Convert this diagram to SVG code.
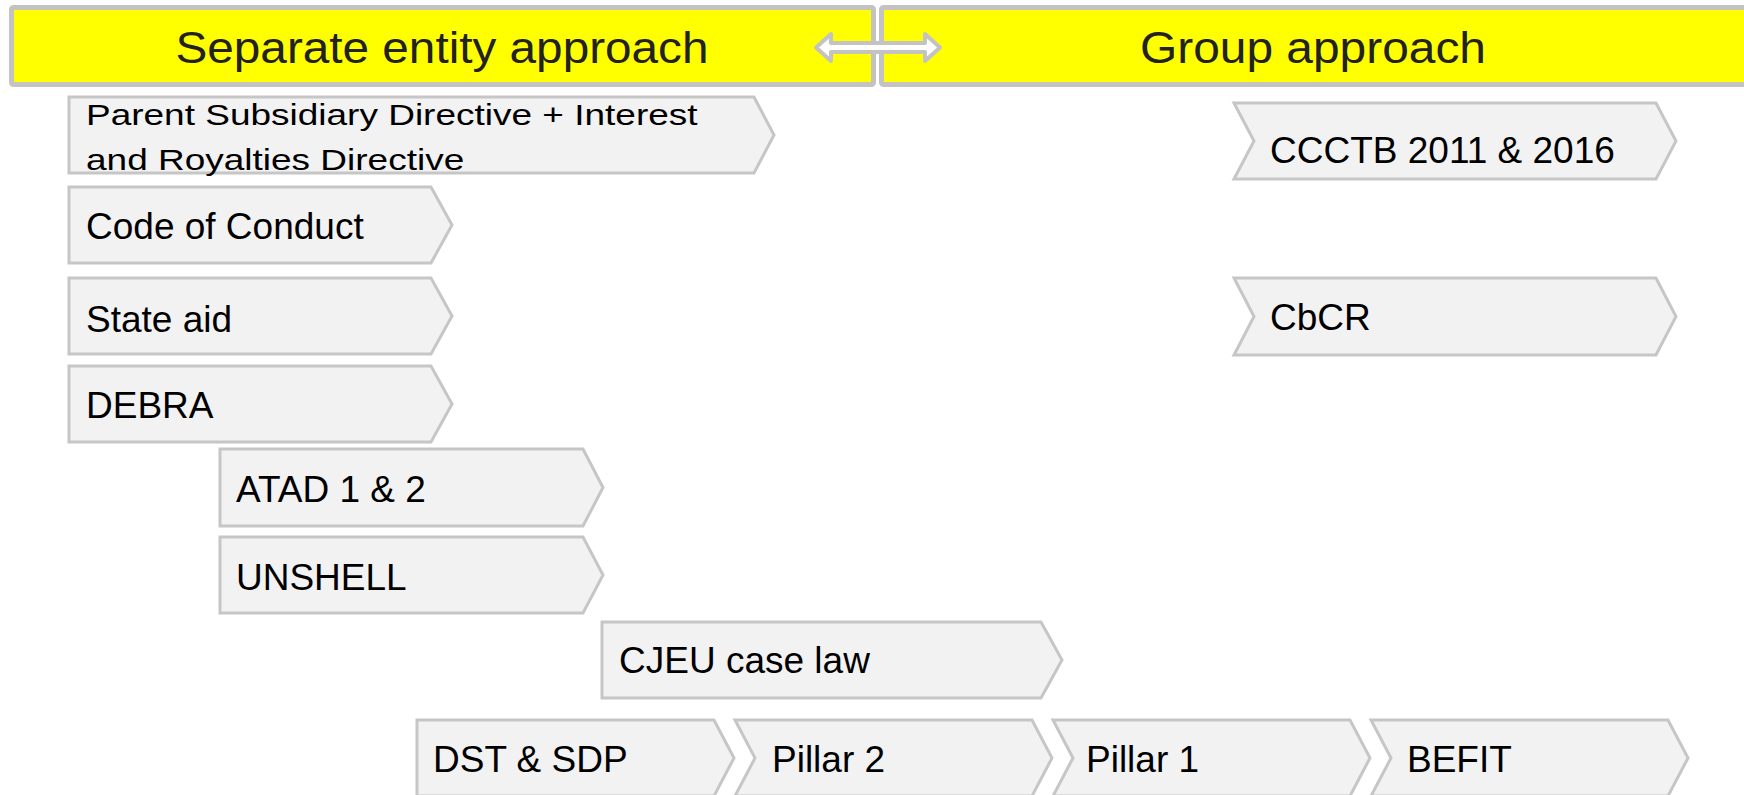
<svg xmlns="http://www.w3.org/2000/svg" width="1744" height="795" viewBox="0 0 1744 795">
  <style>
    .hdr rect { fill: #ffff00; stroke: #c3c3c3; stroke-width: 5; }
    .hdr text { font-family: "Liberation Sans", Arial, sans-serif; font-size: 45px; fill: #222222; text-anchor: middle; }
    .node path { fill: #f2f2f2; stroke: #c6c6c6; stroke-width: 3; stroke-linejoin: miter; }
    .node text { font-family: "Liberation Sans", Arial, sans-serif; font-size: 37px; fill: #000000; }
    .dbl { fill: #ffffff; stroke: #c3c3c3; stroke-width: 4; stroke-linejoin: round; }
  </style>

  <g id="header-separate" class="hdr">
    <rect x="11.5" y="7.5" width="862" height="77" rx="2"/>
    <text x="442" y="63" textLength="533" lengthAdjust="spacingAndGlyphs">Separate entity approach</text>
  </g>
  <g id="header-group" class="hdr">
    <rect x="881.5" y="7.5" width="880" height="77" rx="2"/>
    <text x="1313" y="63" textLength="346" lengthAdjust="spacingAndGlyphs">Group approach</text>
  </g>

  <g id="connectors">
    <path class="dbl" d="M816,47.5 L831,34 L831,43 L925,43 L925,34 L940,47.5 L925,61 L925,52 L831,52 L831,61 Z"/>
  </g>

  <g id="node-parent" class="node">
    <path d="M69,97 L754,97 L774,135 L754,173 L69,173 Z"/>
    <text transform="translate(86,125) scale(1,0.79)">Parent Subsidiary Directive + Interest</text>
    <text transform="translate(86,170) scale(1,0.79)">and Royalties Directive</text>
  </g>
  <g id="node-code" class="node">
    <path d="M69,187 L431,187 L452,225 L431,263 L69,263 Z"/>
    <text x="86" y="239">Code of Conduct</text>
  </g>
  <g id="node-stateaid" class="node">
    <path d="M69,278 L431,278 L452,316 L431,354 L69,354 Z"/>
    <text x="86" y="332">State aid</text>
  </g>
  <g id="node-debra" class="node">
    <path d="M69,366 L431,366 L452,404 L431,442 L69,442 Z"/>
    <text x="86" y="418">DEBRA</text>
  </g>
  <g id="node-atad" class="node">
    <path d="M220,449 L583,449 L603,487.5 L583,526 L220,526 Z"/>
    <text x="236" y="502">ATAD 1 &amp; 2</text>
  </g>
  <g id="node-unshell" class="node">
    <path d="M220,537 L583,537 L603,575 L583,613 L220,613 Z"/>
    <text x="236" y="590">UNSHELL</text>
  </g>
  <g id="node-cjeu" class="node">
    <path d="M602,622 L1041,622 L1062,660 L1041,698 L602,698 Z"/>
    <text x="619" y="673">CJEU case law</text>
  </g>
  <g id="node-dst" class="node">
    <path d="M417,720 L714,720 L734,758 L714,796 L417,796 Z"/>
    <text x="433" y="772">DST &amp; SDP</text>
  </g>
  <g id="node-pillar2" class="node">
    <path d="M735,720 L1032,720 L1052,758 L1032,796 L735,796 L755,758 Z"/>
    <text x="772" y="772">Pillar 2</text>
  </g>
  <g id="node-pillar1" class="node">
    <path d="M1053,720 L1350,720 L1370,758 L1350,796 L1053,796 L1073,758 Z"/>
    <text x="1086" y="772">Pillar 1</text>
  </g>
  <g id="node-befit" class="node">
    <path d="M1371,720 L1668,720 L1688,758 L1668,796 L1371,796 L1391,758 Z"/>
    <text x="1407" y="772">BEFIT</text>
  </g>
  <g id="node-ccctb" class="node">
    <path d="M1234,103 L1656,103 L1676,141 L1656,179 L1234,179 L1254,141 Z"/>
    <text x="1270" y="163">CCCTB 2011 &amp; 2016</text>
  </g>
  <g id="node-cbcr" class="node">
    <path d="M1234,278 L1656,278 L1676,316.5 L1656,355 L1234,355 L1254,316.5 Z"/>
    <text x="1270" y="330">CbCR</text>
  </g>
</svg>
